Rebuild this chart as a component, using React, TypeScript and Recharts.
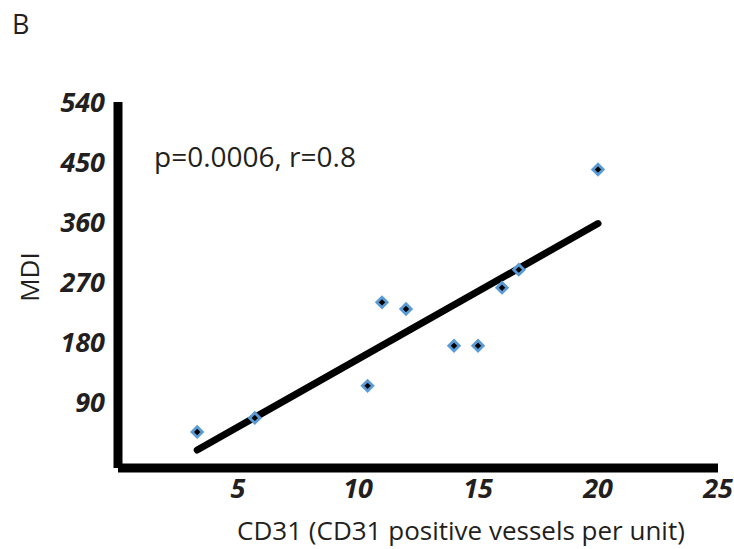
import { Label, ReferenceLine, Scatter, ScatterChart, XAxis, YAxis } from "recharts"

// values
const CD31 = [3.3, 5.7, 10.4, 11, 12, 14, 15, 16, 16.7, 20]
const MDI = [46, 67, 115, 240, 230, 175, 175, 262, 289, 439]
// linear trend line end points
const TREND_X = [3.3, 20]
const TREND_Y = [19, 358]
const X_TICKS = [5, 10, 15, 20, 25]
const Y_TICKS = [90, 180, 270, 360, 450, 540]

const points = CD31.map((x, i) => ({ x, y: MDI[i] }))
const trend = TREND_X.map((x, i) => ({ x, y: TREND_Y[i] }))

const INK = '#231f20'
const FONT = "'Open Sans', sans-serif"

const tickStyle = { fontSize: 27, fontWeight: 700, fontStyle: 'italic', fill: INK, fontFamily: FONT }

function Diamond(props: any) {
    const { cx, cy } = props
    const r = 5.2
    return (
        <polygon
            points={`${cx},${cy - r} ${cx + r},${cy} ${cx},${cy + r} ${cx - r},${cy}`}
            fill="#000"
            stroke="#5b9bd5"
            strokeWidth={2.8}
        />
    )
}

export default function App() {
    return (
        <div style={{ position: 'absolute', left: 0, top: 0, width: 734, height: 549, background: '#fff', fontFamily: FONT }}>
            <ScatterChart width={734} height={549} margin={{ top: 102, right: 16, left: 18, bottom: 6 }}>
                <XAxis
                    type="number"
                    dataKey="x"
                    domain={[0, 25]}
                    ticks={X_TICKS}
                    allowDataOverflow
                    height={75}
                    tickLine={false}
                    tickSize={6}
                    tickMargin={5}
                    axisLine={{ stroke: '#000', strokeWidth: 9 }}
                    tick={tickStyle}
                >
                    <Label value="CD31 (CD31 positive vessels per unit)" position="insideBottom" offset={3} dx={43} style={{ fontSize: 26, fill: INK, fontFamily: FONT }} />
                </XAxis>
                <YAxis
                    type="number"
                    dataKey="y"
                    domain={[-8, 540]}
                    ticks={Y_TICKS}
                    allowDataOverflow
                    width={100}
                    tickLine={false}
                    tickSize={6}
                    tickMargin={7}
                    axisLine={{ stroke: '#000', strokeWidth: 9 }}
                    tick={tickStyle}
                >
                    <Label value="MDI" angle={-90} position="insideLeft" offset={12} dy={-8} style={{ fontSize: 26, fill: INK, fontFamily: FONT, textAnchor: 'middle' }} />
                </YAxis>
                <Scatter data={points} shape={Diamond} isAnimationActive={false} />
                <ReferenceLine
                    segment={trend}
                    stroke="#000"
                    strokeWidth={7}
                    strokeLinecap="round"
                />
            </ScatterChart>
            <div style={{ position: 'absolute', left: 12, top: 5, fontSize: 27, color: INK }}>B</div>
            <div style={{ position: 'absolute', left: 154, top: 137, fontSize: 28, color: INK, whiteSpace: 'nowrap' }}>p=0.0006, r=0.8</div>
        </div>
    )
}
